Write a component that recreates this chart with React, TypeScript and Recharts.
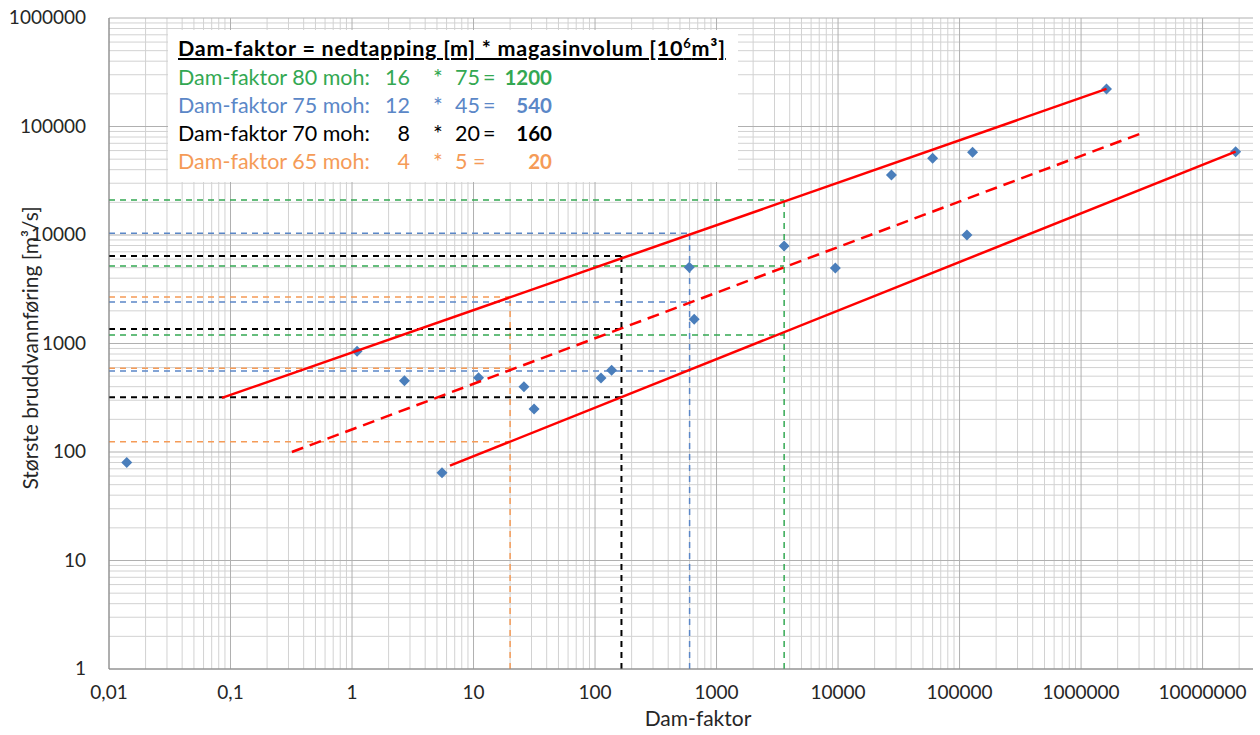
import React from "react";
import {
    ScatterChart,
    Scatter,
    XAxis,
    YAxis,
    CartesianGrid,
    ReferenceLine
} from "recharts";

// axis ticks (decades)
const xTicks = [0.01, 0.1, 1, 10, 100, 1000, 10000, 100000, 1000000, 10000000];
const yTicks = [1, 10, 100, 1000, 10000, 100000, 1000000];
const xTickLabels = ["0,01", "0,1", "1", "10", "100", "1000", "10000", "100000", "1000000", "10000000"];
const yTickLabels = ["1", "10", "100", "1000", "10000", "100000", "1000000"];

// dams: dam-faktor vs største bruddvannføring
const damFaktor = [0.014, 1.1, 2.7, 11, 26, 31.5, 5.5, 112, 137, 596, 655, 3600, 9500, 27500, 60000, 115000, 128000, 1620000, 18700000];
const bruddvann = [80, 850, 454, 484, 400, 249, 64.5, 481, 566, 5040, 1670, 7900, 4960, 35700, 51000, 10000, 58000, 222000, 58600];

// red envelope lines (start / end)
const upperX = [0.085, 1620000];
const upperY = [315, 222000];
const middleX = [0.32, 3400000];
const middleY = [100, 89600];
const lowerX = [6.4, 18700000];
const lowerY = [74.8, 58600];

// dashed guides per reservoir level (65, 70, 75, 80 moh)
const guideX = [20, 165, 600, 3600];
const guideLow = [124.5, 319, 558, 1197];
const guideMid = [591, 1361, 2412, 5180];
const guideHigh = [2683, 6400, 10400, 21000];
const guideColors = ["#f59b57", "#000000", "#5b87c7", "#33a852"];

// minor grid values
const minorOf = (from: number, to: number) => {
    const out: number[] = [];
    for (let e = from; e <= to; e++) {
        for (let m = 2; m <= 9; m++) out.push(m * Math.pow(10, e));
    }
    return out;
};
const xMinor = [...minorOf(-2, 6), 20000000];
const yMinor = minorOf(0, 5);

const toPts = (xs: number[], ys: number[]) => xs.map((x, i) => ({ x, y: ys[i] }));

const FONT = "Lato, 'Open Sans', sans-serif";

const XTick = ({ x, y, payload }: any) => {
    const i = xTicks.indexOf(payload.value);
    return (
        <text x={x} y={y + 30} textAnchor="middle" fontSize={19} fill="#262626" fontFamily={FONT}>
            {i >= 0 ? xTickLabels[i] : ""}
        </text>
    );
};

const YTick = ({ x, y, payload }: any) => {
    const i = yTicks.indexOf(payload.value);
    return (
        <text x={x - 23} y={y + 6} textAnchor="end" fontSize={19} fill="#262626" fontFamily={FONT}>
            {i >= 0 ? yTickLabels[i] : ""}
        </text>
    );
};

const XTitle = () => (
    <text x={698} y={726} textAnchor="middle" fontSize={21} fill="#262626" fontFamily={FONT}>
        Dam-faktor
    </text>
);

const YTitle = () => (
    <text x={38} y={348} textAnchor="middle" fontSize={21} fill="#262626" fontFamily={FONT}
        transform="rotate(-90 38 348)">
        Største bruddvannføring [m³/s]
    </text>
);

const Diamond = ({ cx, cy }: any) => (
    <polygon
        points={`${cx},${cy - 5.5} ${cx + 5.5},${cy} ${cx},${cy + 5.5} ${cx - 5.5},${cy}`}
        fill="#4a7ebb"
    />
);

const NoShape = () => <g />;

const rows = [
    { label: "Dam-faktor 80 moh:", a: "16", b: "75", r: "1200", color: "#33a852" },
    { label: "Dam-faktor 75 moh:", a: "12", b: "45", r: "540", color: "#5b87c7" },
    { label: "Dam-faktor 70 moh:", a: "8", b: "20", r: "160", color: "#000000" },
    { label: "Dam-faktor 65 moh:", a: "4", b: "5", r: "20", color: "#f59b57" },
];

function InfoBox() {
    return (
        <div style={{ position: "absolute", left: 168, top: 30, width: 570, height: 152, background: "#fff", fontFamily: FONT, fontSize: 21.5 }}>
            <div style={{ position: "absolute", left: 10, top: 6, lineHeight: "24px", fontWeight: "bold", textDecoration: "underline", whiteSpace: "nowrap", color: "#000", letterSpacing: 0.75 }}>
                Dam-faktor = nedtapping [m] * magasinvolum [10<span style={{ fontSize: 13, verticalAlign: "super", lineHeight: 0 }}>6</span>m³]
            </div>
            {rows.map((r, i) => (
                <div key={i} style={{ position: "absolute", left: 0, top: 35 + i * 28, width: 570, height: 24, lineHeight: "24px", color: r.color, whiteSpace: "nowrap" }}>
                    <span style={{ position: "absolute", left: 10 }}>{r.label}</span>
                    <span style={{ position: "absolute", right: 570 - 242 }}>{r.a}</span>
                    <span style={{ position: "absolute", left: 265, fontSize: 23 }}>*</span>
                    <span style={{ position: "absolute", left: 287 }}>{r.b}</span>
                    <span style={{ position: "absolute", left: i === 3 ? 305 : 315 }}>=</span>
                    <span style={{ position: "absolute", right: 570 - 384, fontWeight: "bold", fontSize: 20.5 }}>{r.r}</span>
                </div>
            ))}
        </div>
    );
}

export default function App() {
    const dams = toPts(damFaktor, bruddvann);
    return (
        <div style={{ position: "fixed", left: 0, top: 0, width: 1260, height: 735, background: "#fff", overflow: "hidden" }}>
            <ScatterChart width={1260} height={735} margin={{ top: 18, right: 7, bottom: 26, left: 9 }}>
                <CartesianGrid verticalValues={xMinor} horizontalValues={yMinor} stroke="#d2d2d2" />
                <CartesianGrid verticalValues={xTicks} horizontalValues={yTicks} stroke="#b0b0b0" />
                <XAxis
                    type="number"
                    dataKey="x"
                    scale="log"
                    domain={[0.01, 26000000]}
                    allowDataOverflow
                    ticks={xTicks}
                    interval={0}
                    height={40}
                    tickLine={false}
                    tickSize={0}
                    tickMargin={0}
                    tick={<XTick />}
                    axisLine={{ stroke: "#868686" }}
                    label={<XTitle />}
                />
                <YAxis
                    type="number"
                    dataKey="y"
                    scale="log"
                    domain={[1, 1000000]}
                    allowDataOverflow
                    ticks={yTicks}
                    interval={0}
                    width={100}
                    tickLine={false}
                    tickSize={0}
                    tickMargin={0}
                    tick={<YTick />}
                    axisLine={{ stroke: "#868686" }}
                    label={<YTitle />}
                />
                {guideX.map((gx, i) => (
                    <React.Fragment key={"g" + i}>
                        {[guideLow[i], guideMid[i], guideHigh[i]].map((gy, j) => (
                            <ReferenceLine
                                key={"h" + j}
                                segment={[{ x: 0.01, y: gy }, { x: gx, y: gy }]}
                                stroke={guideColors[i]}
                                strokeWidth={i === 1 ? 2 : 1.5}
                                strokeDasharray="6 5"
                            />
                        ))}
                        <ReferenceLine
                            segment={[{ x: gx, y: 1 }, { x: gx, y: guideHigh[i] }]}
                            stroke={guideColors[i]}
                            strokeWidth={i === 1 ? 2 : 1.5}
                            strokeDasharray="6 5"
                        />
                    </React.Fragment>
                ))}
                <Scatter data={dams} shape={<Diamond />} isAnimationActive={false} />
                <Scatter data={toPts(upperX, upperY)} line={{ stroke: "#ff0000", strokeWidth: 2.5 }} shape={<NoShape />} isAnimationActive={false} />
                <Scatter data={toPts(middleX, middleY)} line={{ stroke: "#ff0000", strokeWidth: 2.5, strokeDasharray: "12 7" }} shape={<NoShape />} isAnimationActive={false} />
                <Scatter data={toPts(lowerX, lowerY)} line={{ stroke: "#ff0000", strokeWidth: 2.5 }} shape={<NoShape />} isAnimationActive={false} />
            </ScatterChart>
            <InfoBox />
        </div>
    );
}
